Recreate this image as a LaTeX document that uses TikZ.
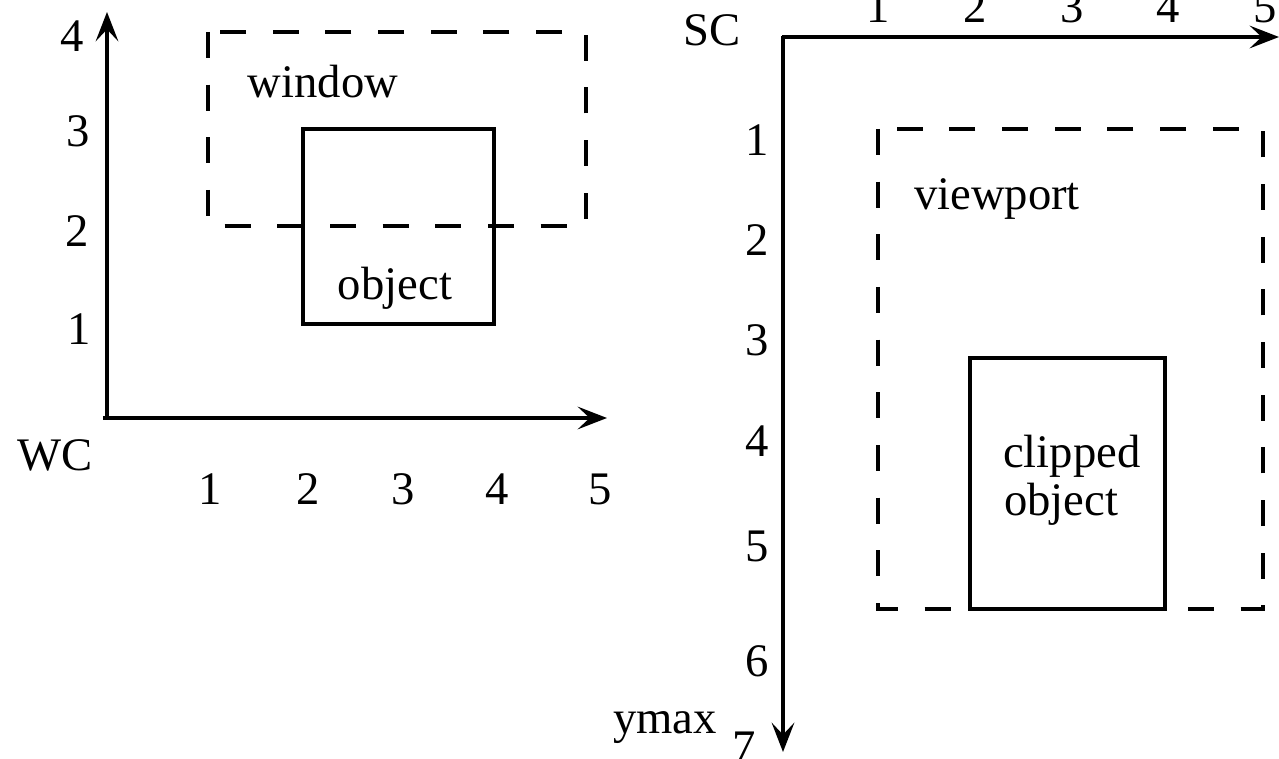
\documentclass[tikz,border=0pt]{standalone}
\usepackage{fontspec}
\setmainfont{Liberation Serif}
\usetikzlibrary{arrows.meta}
\begin{document}
\begin{tikzpicture}[x=0.75pt,y=-0.75pt,
  lbl/.style={anchor=base,inner sep=0pt,font=\fontsize{35}{40}\selectfont},
  txt/.style={anchor=base,inner sep=0pt,font=\fontsize{35}{40}\selectfont},
  axis/.style={line width=2.3pt,-{Stealth[length=22pt,width=17pt,inset=9pt]}},
  solidbox/.style={line width=2.3pt},
  dashbox/.style={line width=2.3pt,dash pattern=on 19.5pt off 20pt}]
\useasboundingbox (0,0) rectangle (1279,759);
\clip (0,0) rectangle (1279,759);
% ---------- left: world coordinates ----------
\coordinate (wo) at (107,419);
\coordinate (wy) at (107,12);
\coordinate (wx) at (607,418);
\draw[axis] (103,418) -- (wx);
\draw[axis] (wo) -- (wy);
\node[lbl] (wc) at (55,470) {WC};
\node[lbl] (wy4) at (72,52) {4};
\node[lbl] (wy3) at (78,147) {3};
\node[lbl] (wy2) at (77,247) {2};
\node[lbl] (wy1) at (79,345) {1};
\node[lbl] (wx1) at (210,504) {1};
\node[lbl] (wx2) at (308,504) {2};
\node[lbl] (wx3) at (403,504) {3};
\node[lbl] (wx4) at (497,504) {4};
\node[lbl] (wx5) at (600,504) {5};
\draw[dashbox] (208,32) rectangle (586,226);
\node[txt] (window) at (323,98) {window};
\draw[solidbox] (303,129) rectangle (494,324);
\node[txt] (object) at (395,300) {object};
% ---------- right: screen coordinates ----------
\coordinate (so) at (783,36);
\coordinate (sx) at (1279,37);
\coordinate (sy) at (783,752);
\draw[axis] (782,37) -- (sx);
\draw[axis] (so) -- (sy);
\node[lbl] (sc) at (712,46) {SC};
\node[lbl] (sx1) at (878,23) {1};
\node[lbl] (sx2) at (975,23) {2};
\node[lbl] (sx3) at (1072,23) {3};
\node[lbl] (sx4) at (1168,23) {4};
\node[lbl] (sx5) at (1265,23) {5};
\node[lbl] (sy1) at (757,156) {1};
\node[lbl] (sy2) at (757,256) {2};
\node[lbl] (sy3) at (757,356) {3};
\node[lbl] (sy4) at (757,456) {4};
\node[lbl] (sy5) at (757,561) {5};
\node[lbl] (sy6) at (757,676) {6};
\node[lbl] (sy7) at (744,762) {7};
\node[lbl] (ymax) at (665,733) {ymax};
\draw[dashbox] (878,129) rectangle (1263,609);
\node[txt] (viewport) at (997,210) {viewport};
\draw[solidbox] (970,358) rectangle (1165,609);
\node[txt,anchor=base west] (clipped) at (1003,467) {clipped};
\node[txt,anchor=base west] (clippedobj) at (1004,515) {object};
\end{tikzpicture}
\end{document}
